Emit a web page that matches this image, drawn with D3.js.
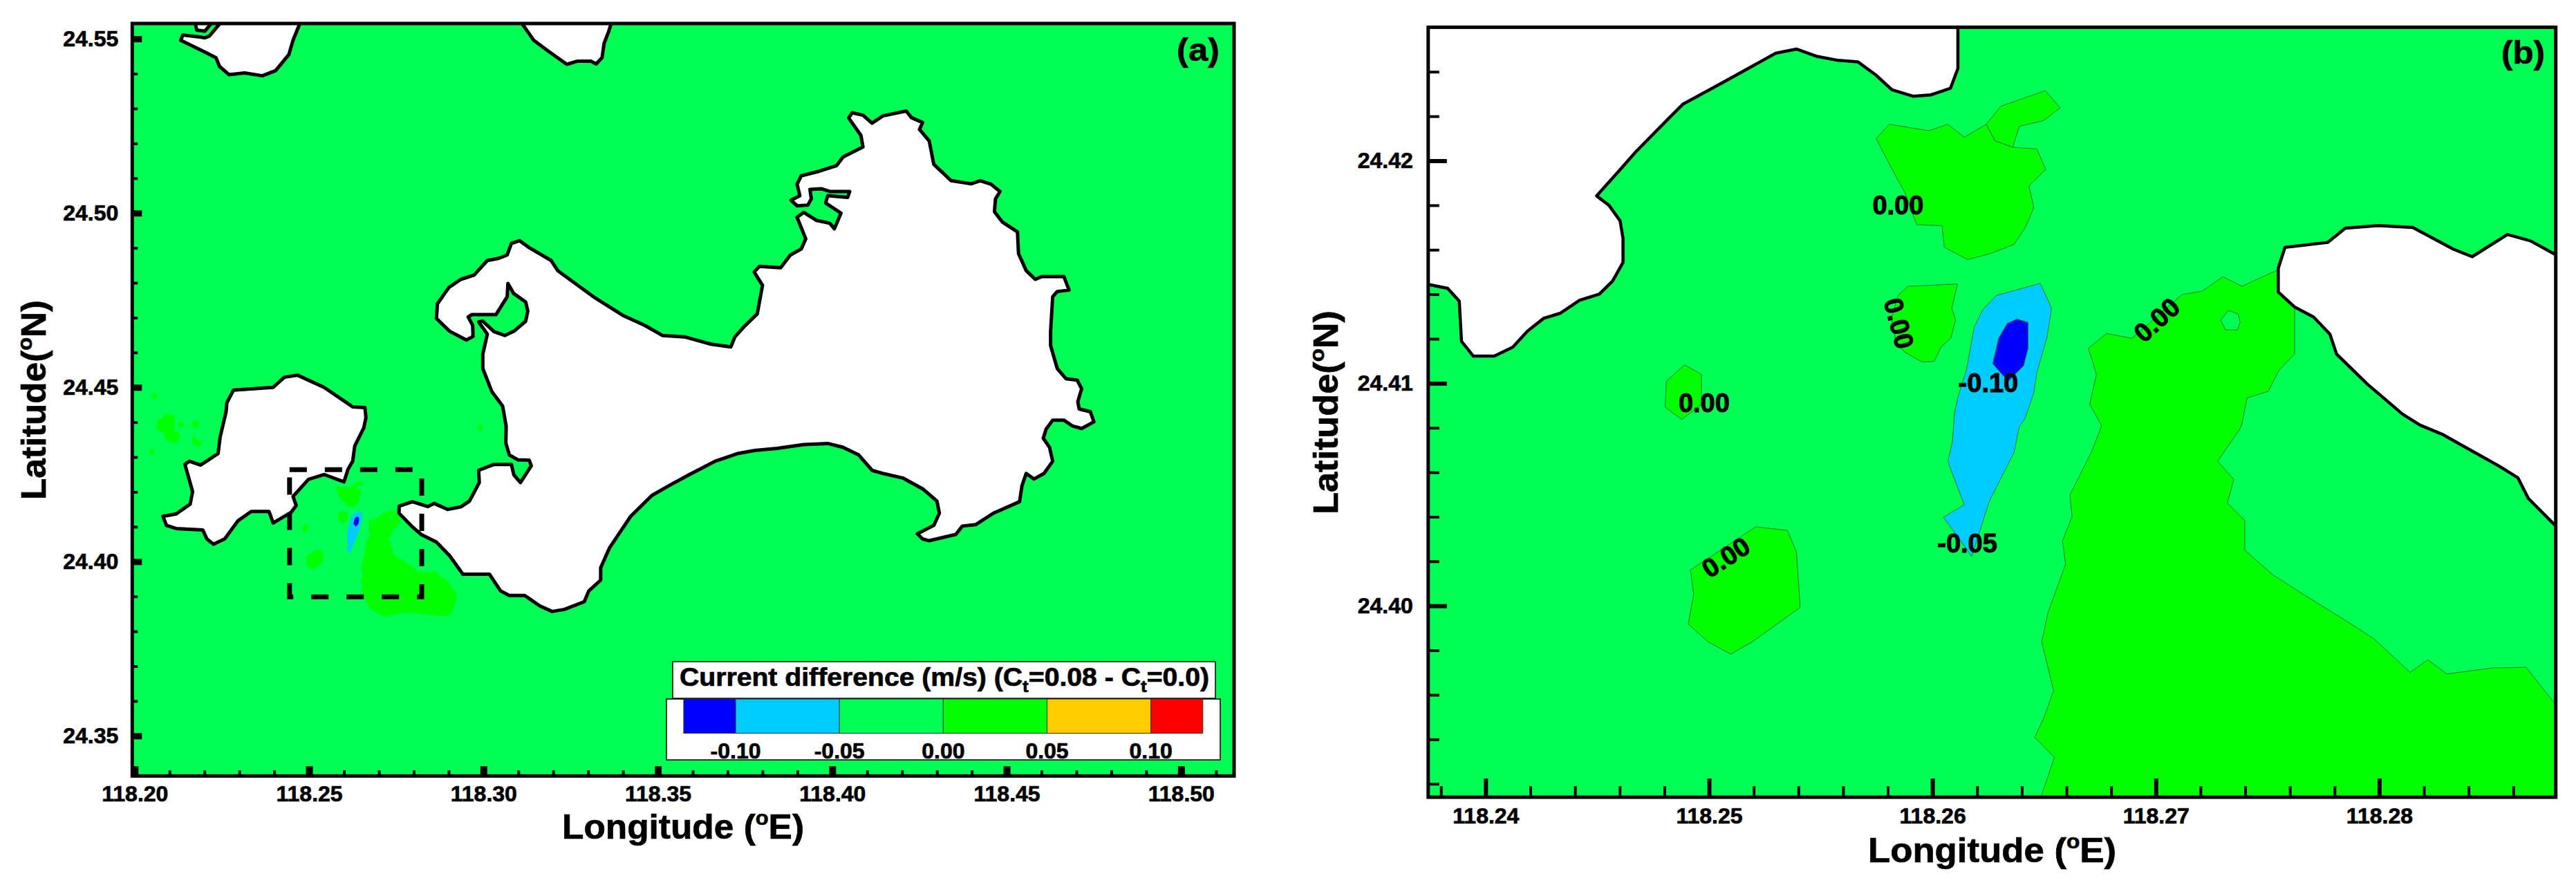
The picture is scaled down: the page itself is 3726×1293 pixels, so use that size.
<!DOCTYPE html>
<html>
<head>
<meta charset="utf-8">
<script src="https://cdnjs.cloudflare.com/ajax/libs/d3/7.8.5/d3.min.js"></script>
<style>
  html, body { margin: 0; padding: 0; background: #fff; }
  svg { display: block; }
  text { font-family: "Liberation Sans", Arial, sans-serif; font-weight: 700; fill: #000; stroke: #000; stroke-width: 0.7px; }
</style>
</head>
<body>
<div id="chart"></div>
<script>
// colour classes of the current difference (m/s)
const levels = [-0.125, -0.10, -0.05, 0, 0.05, 0.10, 0.125];
const levelColors = ['#0000ff', '#00ccff', '#00ff55', '#00ff00', '#ffcc00', '#ff0000'];
const legendTicks = ['-0.10', '-0.05', '0.00', '0.05', '0.10'];

// coast lines of panel (a), lon / lat
const landTopLeftA = [[118.2258,24.556],[118.2214,24.5508],[118.2201,24.5503],[118.2182,24.5506],[118.2138,24.5511],[118.2132,24.5496],[118.2207,24.5459],[118.2233,24.5446],[118.2243,24.5421],[118.2271,24.5397],[118.2315,24.5402],[118.2366,24.5394],[118.2404,24.5409],[118.2442,24.5455],[118.2454,24.5496],[118.2480,24.556]];
const landTopSmallA = [[118.2170,24.556],[118.2178,24.5525],[118.2201,24.5522],[118.2233,24.556]];
const landTopMidA = [[118.3099,24.556],[118.3144,24.5496],[118.3188,24.5463],[118.3239,24.5427],[118.3270,24.5436],[118.3308,24.5436],[118.3323,24.5428],[118.3340,24.5446],[118.3346,24.5488],[118.3359,24.5521],[118.3371,24.556]];
const landWestA = [[118.2283,24.4492],[118.2397,24.4500],[118.2429,24.4529],[118.2467,24.4535],[118.2543,24.4500],[118.2625,24.4444],[118.2660,24.4442],[118.2663,24.4413],[118.2657,24.4384],[118.2631,24.4332],[118.2625,24.4288],[118.2612,24.4266],[118.2600,24.4229],[118.2581,24.4236],[118.2543,24.4250],[118.2498,24.4236],[118.2454,24.4187],[118.2463,24.4161],[118.2448,24.4141],[118.2397,24.4111],[118.2385,24.4144],[118.2334,24.4144],[118.2296,24.4117],[118.2258,24.4065],[118.2226,24.4050],[118.2207,24.4065],[118.2195,24.4091],[118.2119,24.4095],[118.2091,24.4104],[118.2081,24.4130],[118.2119,24.4137],[118.2159,24.4165],[118.2166,24.4201],[118.2144,24.4279],[118.2157,24.4288],[118.2189,24.4277],[118.2239,24.4310],[118.2245,24.4358],[118.2262,24.4430],[118.2264,24.4455]];
const landMainA = [[118.3103,24.4921],[118.3080,24.4913],[118.3068,24.4880],[118.3043,24.4870],[118.3011,24.4864],[118.2973,24.4822],[118.2935,24.4810],[118.2901,24.4787],[118.2868,24.4740],[118.2865,24.4698],[118.2903,24.4661],[118.2951,24.4636],[118.2970,24.4646],[118.2969,24.4678],[118.2956,24.4702],[118.2967,24.4709],[118.3036,24.4709],[118.3068,24.4760],[118.3070,24.4798],[118.3087,24.4769],[118.3121,24.4745],[118.3127,24.4719],[118.3121,24.4690],[118.3087,24.4661],[118.3061,24.4649],[118.3030,24.4660],[118.2998,24.4690],[118.2986,24.4688],[118.3011,24.4653],[118.2998,24.4595],[118.2998,24.4554],[118.3024,24.4488],[118.3055,24.4446],[118.3065,24.4388],[118.3064,24.4341],[118.3074,24.4306],[118.3099,24.4292],[118.3131,24.4291],[118.3137,24.4275],[118.3106,24.4227],[118.3087,24.4249],[118.3080,24.4279],[118.3030,24.4279],[118.2986,24.4262],[118.2988,24.4227],[118.2960,24.4174],[118.2935,24.4157],[118.2897,24.4150],[118.2859,24.4167],[118.2840,24.4158],[118.2796,24.4172],[118.2758,24.4159],[118.2758,24.4139],[118.2796,24.4100],[118.2821,24.4078],[118.2865,24.4056],[118.2903,24.4017],[118.2941,24.3964],[118.3017,24.3964],[118.3049,24.3916],[118.3074,24.3903],[118.3118,24.3903],[118.3163,24.3872],[118.3197,24.3857],[118.3232,24.3863],[118.3289,24.3885],[118.3302,24.3916],[118.3336,24.3947],[118.3336,24.3982],[118.3361,24.4039],[118.3422,24.4130],[118.3483,24.4190],[118.3532,24.4218],[118.3589,24.4249],[118.3664,24.4288],[118.3728,24.4310],[118.3778,24.4319],[118.3842,24.4325],[118.3918,24.4336],[118.3987,24.4339],[118.4031,24.4328],[118.4076,24.4306],[118.4114,24.4262],[118.4145,24.4253],[118.4202,24.4240],[118.4259,24.4209],[118.4300,24.4174],[118.4307,24.4139],[118.4291,24.4104],[118.4244,24.4080],[118.4259,24.4065],[118.4278,24.4060],[118.4354,24.4078],[118.4373,24.4102],[118.4411,24.4106],[118.4462,24.4139],[118.4537,24.4172],[118.4544,24.4218],[118.4556,24.4253],[118.4578,24.4237],[118.4607,24.4253],[118.4632,24.4288],[118.4623,24.4328],[118.4605,24.4354],[118.4613,24.4380],[118.4632,24.4406],[118.4664,24.4406],[118.4689,24.4389],[118.4715,24.4382],[118.4750,24.4401],[118.4740,24.4430],[118.4708,24.4438],[118.4704,24.4459],[118.4715,24.4496],[118.4702,24.4521],[118.4670,24.4525],[118.4645,24.4554],[118.4626,24.4620],[118.4626,24.4661],[118.4632,24.4760],[118.4645,24.4775],[118.4679,24.4779],[118.4664,24.4818],[118.4601,24.4818],[118.4582,24.4810],[118.4556,24.4835],[118.4534,24.4884],[118.4531,24.4946],[118.4487,24.4975],[118.4465,24.5004],[118.4468,24.5041],[118.4481,24.5062],[118.4455,24.5083],[118.4424,24.5093],[118.4398,24.5084],[118.4341,24.5093],[118.4291,24.5140],[118.4278,24.5207],[118.4250,24.5240],[118.4259,24.5260],[118.4227,24.5274],[118.4212,24.5293],[118.4145,24.5279],[118.4114,24.5258],[118.4088,24.5281],[118.4057,24.5288],[118.4047,24.5273],[118.4082,24.5223],[118.4088,24.5190],[118.4031,24.5161],[118.4012,24.5136],[118.3962,24.5120],[118.3911,24.5107],[118.3899,24.5083],[118.3907,24.5050],[118.3882,24.5037],[118.3899,24.5021],[118.3930,24.5023],[118.3940,24.5041],[118.3936,24.5068],[118.3968,24.5070],[118.3993,24.5062],[118.4050,24.5062],[118.4044,24.5045],[118.3987,24.5050],[118.3981,24.5029],[118.4025,24.5000],[118.4006,24.4955],[118.3993,24.4971],[118.3955,24.4979],[118.3918,24.5002],[118.3899,24.4988],[118.3924,24.4926],[118.3911,24.4897],[118.3880,24.4880],[118.3852,24.4843],[118.3791,24.4847],[118.3776,24.4831],[118.3800,24.4793],[118.3785,24.4711],[118.3747,24.4674],[118.3721,24.4645],[118.3709,24.4616],[118.3652,24.4624],[118.3576,24.4645],[118.3513,24.4649],[118.3462,24.4678],[118.3399,24.4707],[118.3321,24.4756],[118.3270,24.4793],[118.3213,24.4835],[118.3194,24.4864],[118.3131,24.4901]];

// coast lines of panel (b)
const landLeftB = [[118.236,24.41444],[118.23744,24.41444],[118.2383,24.41427],[118.23882,24.41369],[118.23892,24.41189],[118.23945,24.41122],[118.24039,24.41122],[118.24122,24.41163],[118.24187,24.41234],[118.2426,24.41292],[118.24335,24.41315],[118.2442,24.41373],[118.24509,24.41401],[118.24568,24.41459],[118.24615,24.41543],[118.24615,24.41652],[118.24602,24.4173],[118.24552,24.418],[118.24497,24.41842],[118.24592,24.41949],[118.24671,24.42039],[118.24809,24.4218],[118.24884,24.42255],[118.25055,24.42348],[118.25298,24.42483],[118.25391,24.42502],[118.25479,24.4247],[118.25578,24.42451],[118.25667,24.42444],[118.25746,24.42386],[118.25819,24.42319],[118.25913,24.4229],[118.25992,24.42296],[118.26081,24.42326],[118.26114,24.42415],[118.26114,24.427],[118.236,24.427]];
const landRightB = [[118.289,24.41578],[118.28789,24.41578],[118.28677,24.4164],[118.28574,24.41669],[118.28416,24.41569],[118.28331,24.41603],[118.2815,24.417],[118.27996,24.41709],[118.27848,24.41697],[118.27769,24.41633],[118.27578,24.41611],[118.27548,24.41517],[118.27548,24.4141],[118.27621,24.41343],[118.27706,24.41298],[118.27779,24.41221],[118.27809,24.41131],[118.27947,24.40996],[118.28105,24.40861],[118.28183,24.40812],[118.28282,24.40771],[118.2841,24.40699],[118.28538,24.40627],[118.28621,24.40575],[118.28667,24.40483],[118.28789,24.4036],[118.289,24.4036]];

// contour regions, bright green class
const patchNorth = [[118.25807,24.42164],[118.25984,24.42135],[118.26069,24.42164],[118.26142,24.42106],[118.26241,24.42164],[118.2628,24.4209],[118.26359,24.42061],[118.26467,24.42053],[118.26507,24.41961],[118.26432,24.41887],[118.26454,24.41791],[118.26418,24.41704],[118.26365,24.41624],[118.26266,24.41585],[118.26158,24.41556],[118.26053,24.41611],[118.26043,24.41708],[118.25929,24.41713],[118.25876,24.41858],[118.25826,24.41949],[118.25748,24.421]];
const patchNorthLobe = [[118.26241,24.42164],[118.26306,24.42245],[118.26505,24.42315],[118.26572,24.42238],[118.26497,24.4218],[118.26389,24.42155],[118.26359,24.42061],[118.2628,24.4209]];
const patchMid = [[118.2589,24.41436],[118.26112,24.41446],[118.26087,24.41337],[118.26103,24.41285],[118.26083,24.41204],[118.26039,24.41163],[118.26008,24.41099],[118.25955,24.41095],[118.25876,24.4114],[118.25836,24.41189],[118.25817,24.41292],[118.25846,24.41395]];
const patchSmall = [[118.2489,24.41083],[118.24966,24.4104],[118.24966,24.40906],[118.24878,24.40837],[118.24803,24.40893],[118.24809,24.41009]];
const patchSouth = [[118.25209,24.40355],[118.25351,24.40339],[118.25391,24.40243],[118.25408,24.39993],[118.25193,24.39838],[118.25097,24.39783],[118.24996,24.39838],[118.24907,24.39918],[118.24931,24.40051],[118.24917,24.40161]];
const patchBig = [[118.27542,24.41508],[118.27385,24.41436],[118.273,24.41479],[118.27207,24.41414],[118.27118,24.41399],[118.26892,24.41202],[118.26779,24.41224],[118.26698,24.41157],[118.26734,24.41041],[118.26704,24.40906],[118.26757,24.40809],[118.26714,24.40696],[118.26615,24.40497],[118.26625,24.40401],[118.26582,24.40291],[118.26596,24.40188],[118.26517,24.39968],[118.26489,24.39838],[118.26542,24.39619],[118.26501,24.39502],[118.26458,24.39409],[118.26546,24.39319],[118.26487,24.39145],[118.2650,24.3911],[118.2674,24.3865],[118.2714,24.3842],[118.2763,24.3852],[118.2803,24.3853],[118.2862,24.3845],[118.2902,24.3845],[118.2915,24.3865],[118.2925,24.3905],[118.2895,24.3948],[118.28789,24.39557],[118.28657,24.39724],[118.28509,24.39721],[118.28302,24.39694],[118.28217,24.39758],[118.28138,24.39701],[118.27976,24.39852],[118.27838,24.39941],[118.27661,24.40051],[118.27523,24.4014],[118.27398,24.4025],[118.27398,24.40383],[118.2732,24.40462],[118.27349,24.40568],[118.27276,24.4065],[118.27375,24.40792],[118.27385,24.40815],[118.27408,24.40934],[118.27503,24.40964],[118.27552,24.4106],[118.27621,24.41131],[118.27621,24.41343]];
const patchHole = [[118.27325,24.41327],[118.27369,24.41311],[118.27377,24.41273],[118.27365,24.4124],[118.27312,24.4124],[118.2729,24.41285]];
// cyan and blue classes
const patchCyan = [[118.26483,24.41449],[118.26533,24.41337],[118.26513,24.41208],[118.26467,24.41047],[118.26454,24.40957],[118.26414,24.40841],[118.26389,24.40806],[118.26365,24.40689],[118.26254,24.40469],[118.26176,24.40222],[118.26049,24.40398],[118.26142,24.40454],[118.26069,24.40648],[118.26089,24.40737],[118.26099,24.40867],[118.26112,24.40931],[118.26152,24.4106],[118.26187,24.41253],[118.26225,24.4133],[118.26286,24.41395]];
const patchBlue = [[118.26379,24.41289],[118.26428,24.41273],[118.26428,24.41157],[118.26408,24.41079],[118.26339,24.41009],[118.2627,24.41088],[118.26296,24.41202],[118.26335,24.41269]];
// specks that only fall inside panel (a)
const specksA = [
  [[118.2056,24.4486],[118.2066,24.4475],[118.2056,24.4463],[118.2047,24.4475]],
  [[118.2094,24.4426],[118.2116,24.4417],[118.2113,24.4380],[118.2132,24.4364],[118.2119,24.4339],[118.2091,24.4347],[118.2081,24.4372],[118.2062,24.4380],[118.2066,24.4405]],
  [[118.2132,24.4403],[118.2144,24.4393],[118.2132,24.4384],[118.2121,24.4393]],
  [[118.2173,24.4407],[118.2190,24.4395],[118.2173,24.4382],[118.2161,24.4395]],
  [[118.2167,24.4364],[118.2176,24.4351],[118.2195,24.4343],[118.2182,24.4329],[118.2163,24.4339]],
  [[118.2049,24.4325],[118.2059,24.4314],[118.2049,24.4304],[118.2040,24.4314]],
  [[118.2989,24.4397],[118.29995,24.4384],[118.2989,24.4374],[118.2981,24.4384]]
];

// box of panel (b) drawn on panel (a)
const boxLon = [118.2444, 118.2823];
const boxLat = [24.4264, 24.3899];

// contour labels of panel (b)
const labelText = ['0.00', '0.00', '0.00', '-0.10', '0.00', '-0.05', '0.00'];
const labelLon = [118.25846, 118.2585, 118.24978, 118.2625, 118.27004, 118.26156, 118.25075];
const labelLat = [24.41802, 24.41269, 24.40912, 24.41002, 24.41285, 24.40281, 24.40218];
const labelAngle = [0, 75, 0, 0, -42, 0, -33];

// ticks
const xMajorA = [118.20, 118.25, 118.30, 118.35, 118.40, 118.45, 118.50];
const yMajorA = [24.35, 24.40, 24.45, 24.50, 24.55];
const xMajorB = [118.24, 118.25, 118.26, 118.27, 118.28];
const yMajorB = [24.40, 24.41, 24.42];

const W = 3726, H = 1293;
const svg = d3.select('#chart').append('svg').attr('width', W).attr('height', H).attr('viewBox', `0 0 ${W} ${H}`);
const lineFor = (x, y) => d3.line().x(d => x(d[0])).y(d => y(d[1]));

function minorTicks(from, to, step, every) {
  // whole multiples of the step, minus the labelled ones
  const n = Math.round((to - from) / step);
  return d3.range(n + 1).map(i => from + i * step)
    .filter(v => Math.round(v / step) % every !== 0);
}

function drawPanel(p) {
  const x = d3.scaleLinear().domain(p.lon).range(p.px);
  const y = d3.scaleLinear().domain(p.lat).range(p.py);
  const line = lineFor(x, y);
  const fw = p.px[1] - p.px[0], fh = p.py[1] - p.py[0];
  const g = svg.append('g');

  svg.append('clipPath').attr('id', p.id).append('rect')
    .attr('x', p.px[0]).attr('y', p.py[0]).attr('width', fw).attr('height', fh);
  const map = g.append('g').attr('clip-path', `url(#${p.id})`);
  map.append('rect').attr('x', p.px[0]).attr('y', p.py[0]).attr('width', fw).attr('height', fh).attr('fill', levelColors[2]);

  const regions = [
    ...p.extra.map(r => ({ r, c: levelColors[3] })),
    { r: patchNorth, c: levelColors[3] }, { r: patchNorthLobe, c: levelColors[3] },
    { r: patchMid, c: levelColors[3] }, { r: patchSmall, c: levelColors[3] },
    { r: patchSouth, c: levelColors[3] }, { r: patchBig, c: levelColors[3] },
    { r: patchHole, c: levelColors[2] },
    { r: patchCyan, c: levelColors[1] }, { r: patchBlue, c: levelColors[0] }
  ];
  map.selectAll('path.region').data(regions).join('path')
    .attr('class', 'region')
    .attr('d', d => line(d.r) + 'Z')
    .attr('fill', d => d.c)
    .attr('stroke', p.contour)
    .attr('stroke-width', p.contourW);

  map.selectAll('path.land').data(p.land).join('path')
    .attr('class', 'land')
    .attr('d', d => line(d) + 'Z')
    .attr('fill', '#fff')
    .attr('stroke', '#000')
    .attr('stroke-width', p.coastW)
    .attr('stroke-linejoin', 'round');

  if (p.box) {
    const xb = x(boxLon[0]), yb = y(boxLat[0]);
    g.append('rect').attr('x', xb).attr('y', yb)
      .attr('width', x(boxLon[1]) - xb).attr('height', y(boxLat[1]) - yb)
      .attr('fill', 'none').attr('stroke', '#000').attr('stroke-width', 7)
      .attr('stroke-dasharray', '25,26');
  }

  if (p.labels) {
    labelText.forEach((t, i) => {
      g.append('text')
        .attr('transform', `translate(${x(labelLon[i])},${y(labelLat[i])}) rotate(${labelAngle[i]})`)
        .attr('text-anchor', 'middle').attr('dy', '0.35em')
        .style('font-size', '38px').style('stroke-width', '1px').text(t);
    });
  }

  // frame and ticks
  const axes = g.append('g');
  const tickLine = (sel, w) => { sel.select('.domain').remove(); sel.selectAll('line').attr('stroke', '#000').attr('stroke-width', w); };
  const xAxis = d3.axisBottom(x).tickSizeOuter(0).tickFormat(d3.format('.2f'));
  const yAxis = d3.axisLeft(y).tickSizeOuter(0).tickFormat(d3.format('.2f'));

  axes.append('g').attr('transform', `translate(0,${p.py[1]})`)
    .call(xAxis.tickValues(p.xMinor).tickSizeInner(-p.minorLen).tickFormat(''))
    .call(tickLine, p.minorW);
  axes.append('g').attr('transform', `translate(0,${p.py[1]})`)
    .call(xAxis.tickValues(p.xMajor).tickSizeInner(-p.majorLen).tickPadding(p.xPad).tickFormat(d3.format('.2f')))
    .call(tickLine, p.majorWx)
    .selectAll('text').attr('fill', '#000').style('font-size', '32px');
  axes.append('g').attr('transform', `translate(${p.px[0]},0)`)
    .call(yAxis.tickValues(p.yMinor).tickSizeInner(-p.minorLen).tickFormat(''))
    .call(tickLine, p.minorW);
  axes.append('g').attr('transform', `translate(${p.px[0]},0)`)
    .call(yAxis.tickValues(p.yMajor).tickSizeInner(-p.majorLen).tickPadding(p.yPad).tickFormat(d3.format('.2f')))
    .call(tickLine, p.majorWy)
    .selectAll('text').attr('fill', '#000').style('font-size', '32px');

  axes.append('rect').attr('x', p.px[0]).attr('y', p.py[0]).attr('width', fw).attr('height', fh)
    .attr('fill', 'none').attr('stroke', '#000').attr('stroke-width', 5);

  // titles
  const xt = g.append('text').attr('x', p.xTitle[0]).attr('y', p.xTitle[1])
    .attr('textLength', p.xTitle[2]).attr('lengthAdjust', 'spacingAndGlyphs').style('font-size', '50px');
  xt.append('tspan').text('Longitude (');
  xt.append('tspan').attr('dy', -20).style('font-size', '30px').text('o');
  xt.append('tspan').attr('dy', 20).text('E)');

  const yt = g.append('text').attr('transform', `translate(${p.yTitle[0]},${p.yTitle[1]}) rotate(-90)`)
    .attr('textLength', p.yTitle[2]).attr('lengthAdjust', 'spacingAndGlyphs').style('font-size', '50px');
  yt.append('tspan').text('Latitude(');
  yt.append('tspan').attr('dy', -20).style('font-size', '30px').text('o');
  yt.append('tspan').attr('dy', 20).text('N)');

  g.append('text').attr('x', p.tag[0]).attr('y', p.tag[1]).attr('textLength', p.tag[2])
    .attr('lengthAdjust', 'spacingAndGlyphs').style('font-size', '46px').text(p.tag[3]);
}

drawPanel({
  id: 'clip-a',
  lon: [118.1993, 118.5152], lat: [24.5544, 24.3385], px: [191.3, 1785], py: [34, 1122.3],
  land: [landTopLeftA, landTopSmallA, landTopMidA, landWestA, landMainA],
  extra: specksA, box: true, labels: false,
  contour: 'none', contourW: 0, coastW: 5,
  xMajor: xMajorA, yMajor: yMajorA,
  xMinor: minorTicks(118.20, 118.51, 0.01, 5), yMinor: minorTicks(24.34, 24.55, 0.01, 5),
  majorLen: 14, minorLen: 8, majorWx: 10, majorWy: 9, minorW: 4, xPad: 14, yPad: 20,
  xTitle: [813, 1213, 350], yTitle: [66, 723, 289], tag: [1702, 88, 62, '(a)']
});

drawPanel({
  id: 'clip-b',
  lon: [118.23743, 118.2879], lat: [24.426, 24.3914], px: [2065.8, 3696.7], py: [39.4, 1153],
  land: [landLeftB, landRightB],
  extra: [], box: false, labels: true,
  contour: '#0a7a2a', contourW: 1, coastW: 4.5,
  xMajor: xMajorB, yMajor: yMajorB,
  xMinor: minorTicks(118.238, 118.286, 0.002, 5), yMinor: minorTicks(24.392, 24.424, 0.002, 5),
  majorLen: 27, minorLen: 16, majorWx: 6, majorWy: 6, minorW: 4, xPad: 15, yPad: 22,
  xTitle: [2702, 1247, 359], yTitle: [1935, 744, 295], tag: [3618, 92, 63, '(b)']
});

// legend of panel (a)
const lx = d3.scaleLinear().domain([-0.10, 0.10]).range([1064, 1664.7]);
const legend = svg.append('g');
legend.append('rect').attr('x', 973).attr('y', 957).attr('width', 785).attr('height', 53)
  .attr('fill', '#fff').attr('stroke', '#000').attr('stroke-width', 1.5);
legend.append('rect').attr('x', 964).attr('y', 1011).attr('width', 801).attr('height', 88)
  .attr('fill', '#fff').attr('stroke', '#000').attr('stroke-width', 1.5);
legend.selectAll('rect.sw').data(levelColors).join('rect')
  .attr('class', 'sw')
  .attr('x', (d, i) => lx(levels[i]))
  .attr('y', 1011).attr('height', 49.5)
  .attr('width', (d, i) => lx(levels[i + 1]) - lx(levels[i]))
  .attr('fill', d => d)
  .attr('stroke', '#333').attr('stroke-width', 1);
legend.selectAll('text.lv').data(legendTicks).join('text')
  .attr('class', 'lv')
  .attr('x', d => lx(+d)).attr('y', 1097).attr('text-anchor', 'middle')
  .style('font-size', '32px').text(d => d);
const lt = legend.append('text').attr('x', 983).attr('y', 992)
  .attr('textLength', 766).attr('lengthAdjust', 'spacingAndGlyphs').style('font-size', '36px');
lt.append('tspan').text('Current difference (m/s) (C');
lt.append('tspan').attr('dy', 9).style('font-size', '24px').text('t');
lt.append('tspan').attr('dy', -9).text('=0.08 - C');
lt.append('tspan').attr('dy', 9).style('font-size', '24px').text('t');
lt.append('tspan').attr('dy', -9).text('=0.0)');
</script>
</body>
</html>
